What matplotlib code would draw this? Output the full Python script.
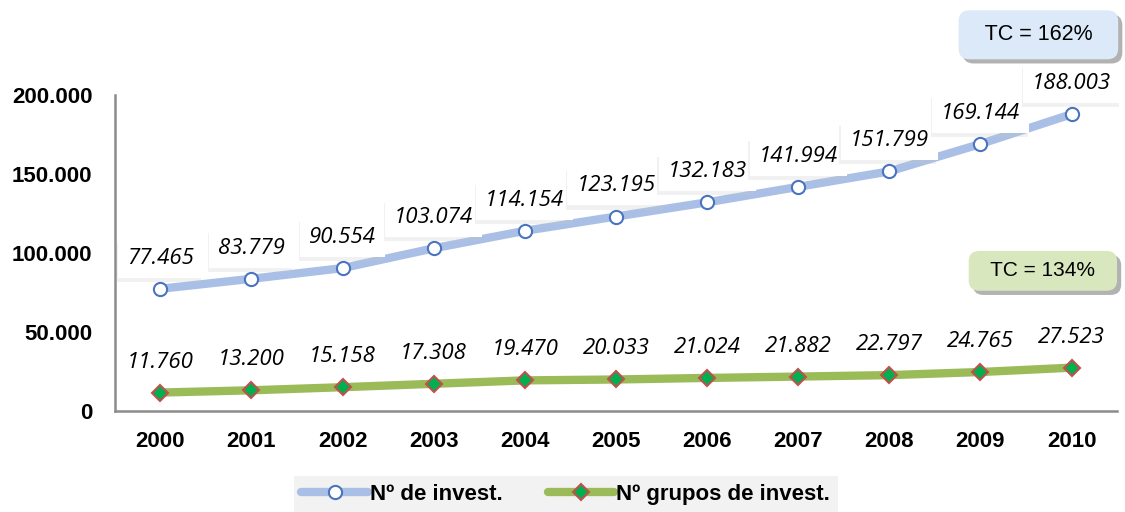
import matplotlib.pyplot as plt
import matplotlib.patheffects as pe

# datos
anios = ['2000', '2001', '2002', '2003', '2004', '2005', '2006', '2007', '2008', '2009', '2010']
invest = [77465, 83779, 90554, 103074, 114154, 123195, 132183, 141994, 151799, 169144, 188003]
grupos = [11760, 13200, 15158, 17308, 19470, 20033, 21024, 21882, 22797, 24765, 27523]
etiq_invest = ['77.465', '83.779', '90.554', '103.074', '114.154', '123.195', '132.183',
               '141.994', '151.799', '169.144', '188.003']
etiq_grupos = ['11.760', '13.200', '15.158', '17.308', '19.470', '20.033', '21.024',
               '21.882', '22.797', '24.765', '27.523']
yticks = [0, 50000, 100000, 150000, 200000]
ytick_lab = ['0', '50.000', '100.000', '150.000', '200.000']

plt.rcParams['font.family'] = ['Liberation Sans', 'DejaVu Sans']
fuente_etiq = ['Open Sans', 'DejaVu Sans']

fig = plt.figure(figsize=(11.25, 5.12), dpi=100)
ax = fig.add_axes([0.102, 0.197, 0.891, 0.617])

x = list(range(len(anios)))

ax.plot(x, invest, c='#a9bfe6', lw=6, solid_capstyle='round', zorder=2,
        marker='o', markersize=9.5, markerfacecolor='white', markeredgecolor='#4a74c0',
        markeredgewidth=1.5, label='Nº de invest.')
ax.plot(x, grupos, c='#9bbb59', lw=6, solid_capstyle='round', zorder=2,
        marker='D', markersize=8.5, markerfacecolor='#00b050', markeredgecolor='#c0504d',
        markeredgewidth=1.5, label='Nº grupos de invest.')

sombra = [pe.SimplePatchShadow(offset=(-1, -3), shadow_rgbFace='#c8c8c8', alpha=0.25), pe.Normal()]
for i in x:
    t = ax.annotate(etiq_invest[i], (i, invest[i]), xytext=(0, 22), textcoords='offset points',
                    ha='center', va='center', fontsize=16, style='italic', zorder=4,
                    family=fuente_etiq,
                    bbox=dict(boxstyle='square,pad=0.4', fc='white', ec='none'))
    t.get_bbox_patch().set_path_effects(sombra)
    ax.annotate(etiq_grupos[i], (i, grupos[i]), xytext=(0, 22), textcoords='offset points',
                ha='center', va='center', fontsize=16, style='italic', zorder=4,
                family=fuente_etiq)

ax.set_xlim(-0.5, len(anios) - 0.5)
ax.set_ylim(0, 200000)
ax.set_xticks(x)
ax.set_xticklabels(anios, fontsize=16, fontweight='bold')
ax.set_yticks(yticks)
ax.set_yticklabels(ytick_lab, fontsize=16, fontweight='bold')
ax.tick_params(axis='x', length=0, pad=14)
ax.tick_params(axis='y', length=0, pad=16)
for s in ['top', 'right']:
    ax.spines[s].set_visible(False)
for s in ['left', 'bottom']:
    ax.spines[s].set_color('#8c8c8c')
    ax.spines[s].set_linewidth(1.8)

# cuadros de tasa de crecimiento
sombra_tc = [pe.SimplePatchShadow(offset=(3, -3), shadow_rgbFace='#808080', alpha=0.6), pe.Normal()]
t1 = fig.text(0.923, 0.932, '  TC = 162%  ', ha='center', va='center', fontsize=15.5,
              bbox=dict(boxstyle='round,pad=0.65,rounding_size=0.5', fc='#dbe9f8', ec='none'))
t1.get_bbox_patch().set_path_effects(sombra_tc)
t2 = fig.text(0.927, 0.471, '  TC = 134%  ', ha='center', va='center', fontsize=15,
              bbox=dict(boxstyle='round,pad=0.5,rounding_size=0.5', fc='#d9e7bf', ec='none'))
t2.get_bbox_patch().set_path_effects(sombra_tc)

leg = fig.legend(loc='center', bbox_to_anchor=(0.503, 0.035), ncol=2, frameon=True,
                 facecolor='#f2f2f2', edgecolor='none', framealpha=1, fancybox=False,
                 prop={'size': 16, 'weight': 'bold'}, handlelength=3.0, columnspacing=2.0,
                 handletextpad=0.1, borderpad=0.35)

plt.savefig('out.png', dpi=100)
